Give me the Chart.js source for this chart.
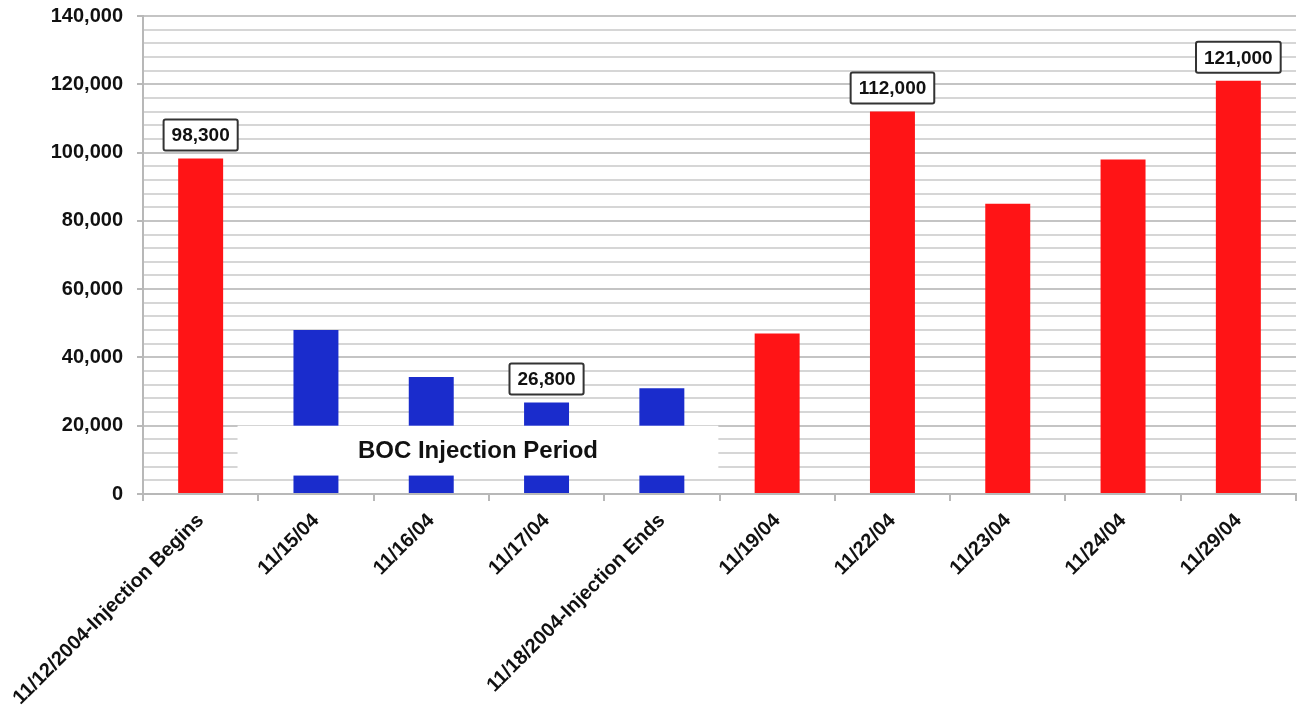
<!DOCTYPE html>
<html>
<head>
<meta charset="utf-8">
<script src="https://cdn.jsdelivr.net/npm/chart.js@4"></script>
<style>
  html, body { margin: 0; padding: 0; background: #fff; }
  #wrap { width: 1297px; height: 708px; position: relative; }
</style>
</head>
<body>
<div id="wrap"><canvas id="boc-chart"></canvas></div>
<script>
const dates = ['11/12/2004-Injection Begins', '11/15/04', '11/16/04', '11/17/04', '11/18/2004-Injection Ends',
               '11/19/04', '11/22/04', '11/23/04', '11/24/04', '11/29/04'];
const counts = [98300, 48000, 34300, 26800, 31000, 47000, 112000, 85000, 98000, 121000];
const duringInjection = [false, true, true, true, true, false, false, false, false, false];
const labelledBars = [0, 3, 6, 9];
const periodText = 'BOC Injection Period';

const RED = 'rgb(255, 20, 22)';
const BLUE = 'rgb(26, 44, 204)';
const FONT = '"Liberation Sans", Arial, sans-serif';

// white box with the period caption, laid over the blue bars
const periodBox = {
  id: 'periodBox',
  afterDatasetsDraw(chart) {
    const x = chart.scales.x, y = chart.scales.y;
    const step = x.getPixelForValue(1) - x.getPixelForValue(0);
    const left = x.getPixelForValue(0) + 0.32 * step;
    const right = x.getPixelForValue(4) + 0.49 * step;
    const top = y.getPixelForValue(20000);
    const bottom = y.getPixelForValue(5400);
    const ctx = chart.ctx;
    ctx.save();
    ctx.fillStyle = '#fff';
    ctx.fillRect(left, top, right - left, bottom - top);
    ctx.fillStyle = '#111';
    ctx.font = 'bold 24px ' + FONT;
    ctx.textAlign = 'center';
    ctx.textBaseline = 'middle';
    ctx.fillText(periodText, (left + right) / 2, (top + bottom) / 2 + 1);
    ctx.restore();
  }
};

// boxed value labels above selected bars
const barLabels = {
  id: 'barLabels',
  afterDatasetsDraw(chart) {
    const meta = chart.getDatasetMeta(0);
    const ctx = chart.ctx;
    ctx.save();
    ctx.font = 'bold 19px ' + FONT;
    ctx.textAlign = 'center';
    ctx.textBaseline = 'middle';
    labelledBars.forEach(i => {
      const bar = meta.data[i];
      const text = counts[i].toLocaleString('en-US');
      const w = ctx.measureText(text).width + 16;
      const h = 31;
      const bx = bar.x - w / 2;
      const by = bar.y - 8 - h;
      ctx.fillStyle = '#fff';
      ctx.strokeStyle = '#333';
      ctx.lineWidth = 2;
      ctx.beginPath();
      ctx.roundRect(bx, by, w, h, 2);
      ctx.fill();
      ctx.stroke();
      ctx.fillStyle = '#111';
      ctx.fillText(text, bar.x, by + h / 2 + 1);
    });
    ctx.restore();
  }
};

new Chart(document.getElementById('boc-chart'), {
  type: 'bar',
  data: {
    labels: dates,
    datasets: [{
      data: counts,
      backgroundColor: duringInjection.map(d => d ? BLUE : RED),
      borderWidth: 0,
      barPercentage: 0.39,
      categoryPercentage: 1
    }]
  },
  options: {
    responsive: true,
    maintainAspectRatio: false,
    animation: false,
    layout: { padding: { top: 16, right: 1, left: 0, bottom: 0 } },
    plugins: { legend: { display: false }, tooltip: { enabled: false } },
    scales: {
      x: {
        grid: { drawOnChartArea: false, color: '#b8b8b8', lineWidth: 2, tickLength: 7 },
        border: { color: '#b8b8b8', width: 2 },
        ticks: {
          autoSkip: false, minRotation: 45, maxRotation: 45, padding: 8,
          color: '#111', font: { family: FONT, size: 20, weight: 'bold' }
        },
        afterFit: s => { s.height = 214; }
      },
      y: {
        min: 0, max: 140000,
        grid: {
          color: c => c.tick && c.tick.value % 20000 === 0 ? '#c4c4c4' : '#d6d6d6',
          tickColor: c => c.tick && c.tick.value % 20000 === 0 ? '#b8b8b8' : 'rgba(0,0,0,0)',
          lineWidth: 2, tickLength: 6
        },
        border: { color: '#b8b8b8', width: 2 },
        ticks: {
          stepSize: 4000, padding: 14, autoSkip: false,
          color: '#111', font: { family: FONT, size: 20, weight: 'bold' },
          callback: v => v % 20000 === 0 ? v.toLocaleString('en-US') : ''
        },
        afterFit: s => { s.width = 143; s.paddingTop = 10; s.paddingBottom = 10; }
      }
    }
  },
  plugins: [periodBox, barLabels]
});
</script>
</body>
</html>
